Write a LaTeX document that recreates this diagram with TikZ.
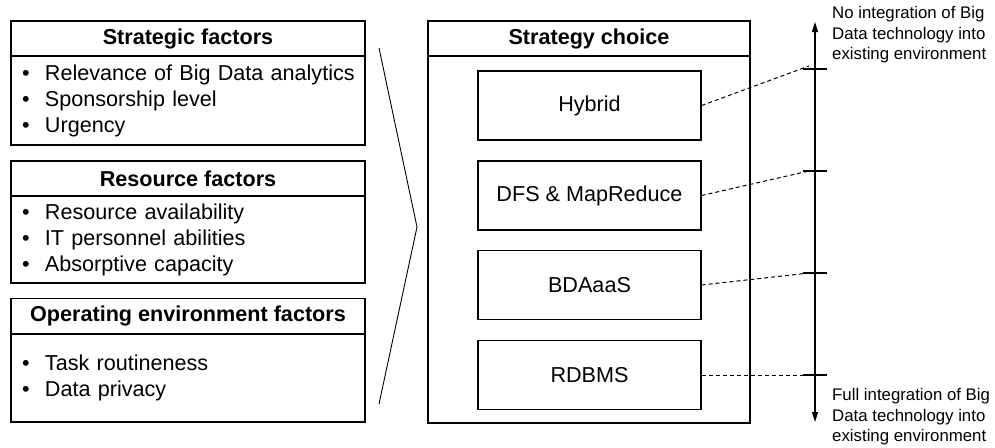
\documentclass[tikz,border=0pt]{standalone}
\usepackage{fontspec}
\setmainfont{Liberation Sans}
\usetikzlibrary{positioning,arrows.meta}

\begin{document}
\begin{tikzpicture}[
  x=1pt, y=-1pt,
  font=\fontsize{21.6}{26}\selectfont,
  hdr/.style  ={rectangle, draw=black, line width=1.2pt, minimum height=35pt,
                inner sep=0pt, font=\fontsize{21.6}{26}\selectfont\bfseries},
  body/.style ={rectangle, draw=black, line width=1.2pt, inner xsep=11pt,
                inner ysep=0pt, align=left, text width=332pt},
  opt/.style  ={rectangle, draw=black, line width=1.2pt, minimum width=223pt,
                minimum height=69pt, inner sep=0pt},
  lbl/.style  ={anchor=west, align=left, inner sep=0pt,
                font=\fontsize{16.8}{20.5}\selectfont},
  conn/.style ={line width=1pt, dash pattern=on 4pt off 3pt},
  arr/.style  ={{Triangle[length=10pt,width=6pt]}-{Triangle[length=10pt,width=6pt]}, line width=1.2pt},
]
\newcommand{\itm}[1]{\mbox{\makebox[23pt][l]{\textbullet}#1}}
\useasboundingbox (0,0) rectangle (995,447);

% ---------------- factor groups (left) ----------------
\node[hdr, minimum width=354pt] (strat) at (188,38.5) {Strategic factors};
\node[body, minimum height=89pt] (stratb) at (188,100.5)
  {\itm{Relevance of Big Data analytics}\\ \itm{Sponsorship level}\\ \itm{Urgency}};

\node[hdr, minimum width=354pt] (res) at (188,178.5) {Resource factors};
\node[body, minimum height=87pt] (resb) at (188,239.5)
  {\itm{Resource availability}\\ \itm{IT personnel abilities}\\ \itm{Absorptive capacity}};

\node[hdr, minimum width=354pt] (oper) at (188,316) {Operating environment factors};
\node[body, minimum height=88pt] (operb) at (188,378)
  {\itm{Task routineness}\\ \itm{Data privacy}};

% ---------------- chevron ----------------
\coordinate (chtop) at (379,48);
\coordinate (chtip) at (417,227);
\coordinate (chbot) at (379,404);
\draw[line width=0.9pt] (chtop) -- (chtip) -- (chbot);

% ---------------- strategy choice (middle) ----------------
\node[hdr, minimum width=322pt] (choice) at (589,38.5) {Strategy choice};
\node[rectangle, draw=black, line width=1.2pt, minimum width=322pt,
      minimum height=367pt, inner sep=0pt] (choiceb) at (589,239.5) {};

\node[opt] (hybrid) at (589.5,105.5) {Hybrid};
\node[opt] (dfs)    at (589.5,195.5) {DFS \& MapReduce};
\node[opt] (bda)    at (589.5,285)   {BDAaaS};
\node[opt] (rdbms)  at (589.5,375)   {RDBMS};

% ---------------- integration scale (right) ----------------
\coordinate (top) at (815,22);
\coordinate (bot) at (815,422);
\draw[arr] (bot) -- (top);

\foreach \n/\y in {1/69,2/171,3/273,4/375}{
  \coordinate (t\n) at (815,\y);
  \draw[line width=1.2pt] ([xshift=-12pt]t\n) -- ([xshift=12pt]t\n);
}

\draw[conn] (hybrid.east) -- ([xshift=-6pt,yshift=3pt]t1);
\draw[conn] (dfs.east)    -- ([xshift=-6pt]t2);
\draw[conn] (bda.east)    -- ([xshift=-6pt]t3);
\draw[conn] (rdbms.east)  -- ([xshift=-6pt]t4);

\node[lbl] (noint) at (832,35)
  {No integration of Big\\Data technology into\\existing environment};
\node[lbl] (fullint) at (832,417)
  {Full integration of Big\\Data technology into\\existing environment};

\end{tikzpicture}
\end{document}
